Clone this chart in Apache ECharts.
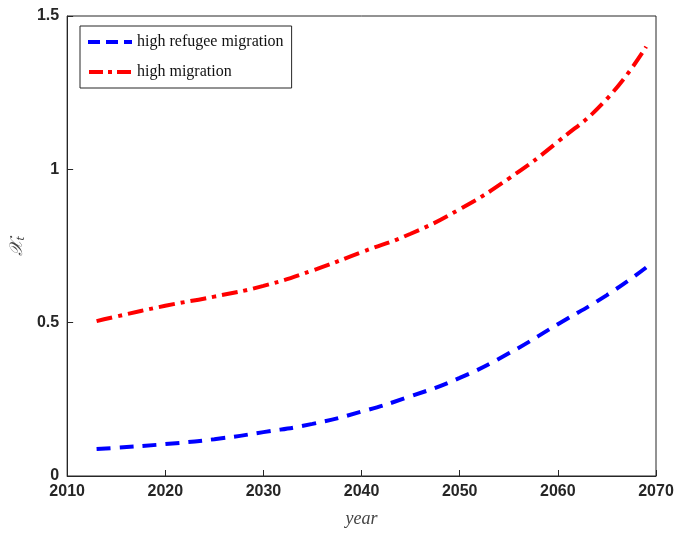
<!DOCTYPE html>
<html>
<head>
<meta charset="UTF-8">
<script src="https://cdn.jsdelivr.net/npm/echarts@6/dist/echarts.min.js"></script>
<style>
  body { margin: 0; background: #fff; }
  #chart { width: 678px; height: 533px; }
</style>
</head>
<body>
<div id="chart"></div>
<script>
const years = [2013, 2015, 2020, 2025, 2030, 2035, 2040, 2045, 2050, 2055, 2060, 2065, 2069];
const refugee = [0.088, 0.092, 0.104, 0.12, 0.143, 0.17, 0.21, 0.26, 0.32, 0.40, 0.495, 0.59, 0.68];
const high = [0.505, 0.52, 0.555, 0.585, 0.62, 0.67, 0.73, 0.79, 0.87, 0.97, 1.09, 1.23, 1.40];

const chart = echarts.init(document.getElementById('chart'));
const axisCommon = {
  axisLine: { show: true, onZero: false, lineStyle: { color: '#262626', width: 1 } },
  axisTick: { show: true, inside: true, length: 6, lineStyle: { color: '#262626' } },
  axisLabel: { color: '#262626', fontSize: 16, fontWeight: 'bold', fontFamily: 'Liberation Sans', formatter: v => String(v) },
  splitLine: { show: false },
  nameTextStyle: { fontFamily: 'Liberation Serif', fontStyle: 'italic', fontSize: 18, color: '#444' }
};
chart.setOption({
  animation: false,
  grid: { left: 63, right: 22, top: 16, bottom: 56, show: true, borderColor: '#262626', borderWidth: 1 },
  legend: {
    left: 80, top: 26, orient: 'vertical', itemWidth: 44, itemHeight: 4, itemGap: 14,
    borderColor: '#262626', borderWidth: 1, padding: [8, 8, 8, 8], backgroundColor: '#fff',
    textStyle: { fontFamily: 'Liberation Serif', fontSize: 16, color: '#111' },
    data: [
      { name: 'high refugee migration', icon: 'path://M0,0h12v4h-12zM18,0h12v4h-12zM36,0h8v4h-8z' },
      { name: 'high migration', icon: 'path://M0,0h14v4h-14zM19,0h4v4h-4zM28,0h14v4h-14z' }
    ]
  },
  xAxis: Object.assign({}, axisCommon, {
    type: 'value', min: 2010, max: 2070, interval: 10,
    name: 'year', nameLocation: 'middle', nameGap: 34
  }),
  yAxis: Object.assign({}, axisCommon, {
    type: 'value', min: 0, max: 1.5, interval: 0.5,
    name: '𝒳ₜ', nameLocation: 'middle', nameGap: 38
  }),
  series: [
    { name: 'high refugee migration', type: 'line', symbol: 'none', smooth: true,
      data: years.map((y, i) => [y, refugee[i]]),
      itemStyle: { color: '#0000ff' },
      lineStyle: { color: '#0000ff', width: 4, type: [14, 9] } },
    { name: 'high migration', type: 'line', symbol: 'none', smooth: true,
      data: years.map((y, i) => [y, high[i]]),
      itemStyle: { color: '#ff0000' },
      lineStyle: { color: '#ff0000', width: 4, type: [16, 6, 4, 6] } }
  ]
});
</script>
</body>
</html>
